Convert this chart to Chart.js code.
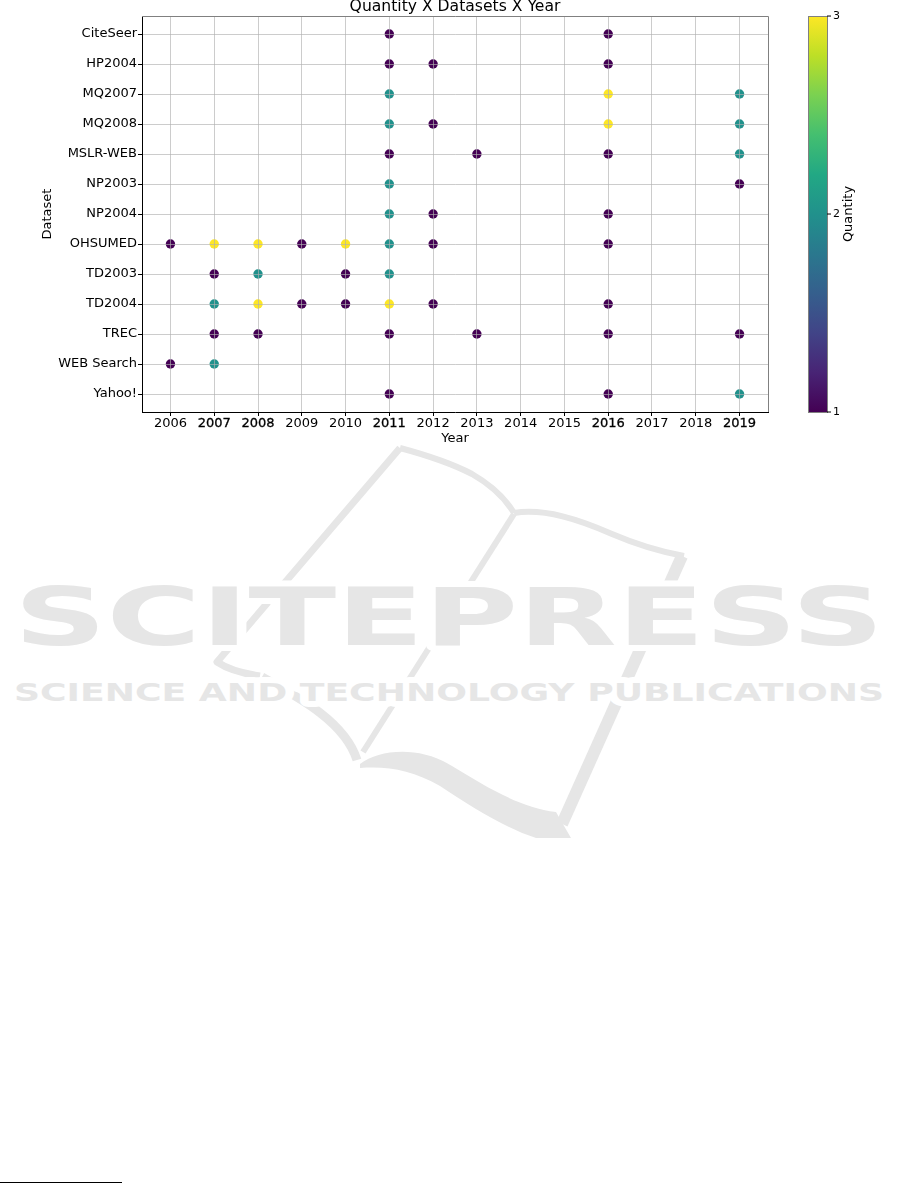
<!DOCTYPE html>
<html>
<head>
<meta charset="utf-8">
<script src="https://cdn.jsdelivr.net/npm/chart.js@4.4.1/dist/chart.umd.min.js"></script>
<style>
  html, body { margin: 0; padding: 0; background: #fff; }
  body { width: 901px; height: 1184px; position: relative; overflow: hidden; }
  #mark { position: absolute; left: 0; top: 0; }
  #wrap { position: absolute; left: 0; top: 0; width: 901px; height: 460px; }
  .footline { position: absolute; left: 0; top: 1182px; width: 122px; height: 1px; background: #000; }
</style>
</head>
<body>
<svg id="mark" width="901" height="1184" xmlns="http://www.w3.org/2000/svg">
  <g fill="none" stroke="#e6e6e6" stroke-linejoin="round">
    <path d="M 400 448 L 217 662 Q 232 672 260 676" stroke-width="7"/>
    <path d="M 400 448 Q 445 460 472 474 Q 500 490 514 513" stroke-width="6"/>
    <path d="M 514 513 C 545 508 580 520 612 534 C 640 546 662 552 684 556" stroke-width="6"/>
    <path d="M 514 514 L 363 752" stroke-width="6"/>
    <path d="M 682 556 L 562 824" stroke-width="12"/>
    <path d="M 262 677 C 300 698 345 722 357 760" stroke-width="9"/>
  </g>
  <path d="M 360 764 C 380 749 420 746 452 766 C 485 786 520 808 556 812 L 571 838 L 536 838 C 505 828 470 806 440 786 C 412 770 388 766 360 768 Z" fill="#e6e6e6"/>
  <g font-family="DejaVu Sans" font-weight="bold" fill="#e6e6e6" stroke="#fff" stroke-width="12" paint-order="stroke" stroke-linejoin="round">
    <text x="14" y="645" font-size="80" textLength="870" lengthAdjust="spacingAndGlyphs">SCITEPRESS</text>
    <text x="14" y="701" font-size="25" textLength="870" lengthAdjust="spacingAndGlyphs">SCIENCE AND TECHNOLOGY PUBLICATIONS</text>
  </g>
</svg>
<div id="wrap"><canvas id="chart" width="901" height="460"></canvas></div>
<div class="footline"></div>
<script>
const datasetNames = ["CiteSeer", "HP2004", "MQ2007", "MQ2008", "MSLR-WEB", "NP2003", "NP2004",
  "OHSUMED", "TD2003", "TD2004", "TREC", "WEB Search", "Yahoo!"];
const yearTicks = [2006, 2007, 2008, 2009, 2010, 2011, 2012, 2013, 2014, 2015, 2016, 2017, 2018, 2019];
const boldYears = [2007, 2008, 2011, 2016, 2019];
const quantityTicks = [1, 2, 3];

// [year, dataset] for each quantity level
const quantityOne = [
  [2011, "CiteSeer"], [2016, "CiteSeer"],
  [2011, "HP2004"], [2012, "HP2004"], [2016, "HP2004"],
  [2012, "MQ2008"],
  [2011, "MSLR-WEB"], [2013, "MSLR-WEB"], [2016, "MSLR-WEB"],
  [2019, "NP2003"],
  [2012, "NP2004"], [2016, "NP2004"],
  [2006, "OHSUMED"], [2009, "OHSUMED"], [2012, "OHSUMED"], [2016, "OHSUMED"],
  [2007, "TD2003"], [2010, "TD2003"],
  [2009, "TD2004"], [2010, "TD2004"], [2012, "TD2004"], [2016, "TD2004"],
  [2007, "TREC"], [2008, "TREC"], [2011, "TREC"], [2013, "TREC"], [2016, "TREC"], [2019, "TREC"],
  [2006, "WEB Search"],
  [2011, "Yahoo!"], [2016, "Yahoo!"]
];
const quantityTwo = [
  [2011, "MQ2007"], [2019, "MQ2007"],
  [2011, "MQ2008"], [2019, "MQ2008"],
  [2019, "MSLR-WEB"],
  [2011, "NP2003"],
  [2011, "NP2004"],
  [2011, "OHSUMED"],
  [2008, "TD2003"], [2011, "TD2003"],
  [2007, "TD2004"],
  [2007, "WEB Search"],
  [2019, "Yahoo!"]
];
const quantityThree = [
  [2016, "MQ2007"],
  [2016, "MQ2008"],
  [2007, "OHSUMED"], [2008, "OHSUMED"], [2010, "OHSUMED"],
  [2008, "TD2004"], [2011, "TD2004"]
];

const viridis = ["#440154", "#482475", "#414487", "#355f8d", "#2a788e", "#21918c",
  "#22a884", "#44bf70", "#7ad151", "#bddf26", "#fde725"];
const qtyColors = ["#440154", "#21918c", "#fde725"];

Chart.defaults.font.family = "DejaVu Sans";
Chart.defaults.color = "#000";

function toPoints(list) {
  return list.map(([year, name]) => ({ x: year, y: datasetNames.indexOf(name) }));
}

const gridColor = "rgba(176, 176, 176, 0.65)";

// top/right frame + colorbar
const framePlugin = {
  id: "frame",
  afterDraw(chart) {
    const { ctx, chartArea } = chart;
    ctx.save();
    ctx.strokeStyle = "#808080";
    ctx.lineWidth = 1;
    ctx.beginPath();
    ctx.moveTo(chartArea.left, Math.round(chartArea.top) + 0.5);
    ctx.lineTo(chartArea.right + 0.5, Math.round(chartArea.top) + 0.5);
    ctx.lineTo(chartArea.right + 0.5, chartArea.bottom);
    ctx.stroke();

    const left = 808, width = 19, top = chartArea.top, bottom = chartArea.bottom;
    const grad = ctx.createLinearGradient(0, bottom, 0, top);
    viridis.forEach((c, i) => grad.addColorStop(i / (viridis.length - 1), c));
    ctx.fillStyle = grad;
    ctx.fillRect(left, top, width, bottom - top);
    ctx.strokeStyle = "#808080";
    ctx.strokeRect(left + 0.5, Math.round(top) + 0.5, width, Math.round(bottom - top));

    const lo = quantityTicks[0], hi = quantityTicks[quantityTicks.length - 1];
    ctx.fillStyle = "#000";
    ctx.strokeStyle = "#000";
    ctx.font = "11px 'DejaVu Sans'";
    ctx.textAlign = "left";
    ctx.textBaseline = "middle";
    quantityTicks.forEach(v => {
      const y = bottom - (v - lo) / (hi - lo) * (bottom - top);
      ctx.beginPath();
      ctx.moveTo(left + width, y);
      ctx.lineTo(left + width + 4, y);
      ctx.stroke();
      ctx.fillText(String(v), left + width + 6, y);
    });

    ctx.save();
    ctx.translate(849, (top + bottom) / 2);
    ctx.rotate(-Math.PI / 2);
    ctx.textAlign = "center";
    ctx.font = "13px 'DejaVu Sans'";
    ctx.fillText("Quantity", 0, 0);
    ctx.restore();
    ctx.restore();
  }
};

const chart = new Chart(document.getElementById("chart"), {
  type: "scatter",
  data: {
    datasets: [quantityOne, quantityTwo, quantityThree].map((list, i) => ({
      label: "Quantity " + quantityTicks[i],
      data: toPoints(list),
      backgroundColor: qtyColors[i],
      borderWidth: 0,
      pointRadius: 4.7,
      pointHoverRadius: 4.7
    }))
  },
  options: {
    responsive: false,
    animation: false,
    devicePixelRatio: 1,
    layout: { padding: { left: 0, right: 133, top: 0, bottom: 0 } },
    plugins: {
      legend: { display: false },
      tooltip: { enabled: false },
      title: {
        display: true,
        text: "Quantity X Datasets X Year",
        fullSize: false,
        color: "#000",
        font: { size: 15.6, weight: "normal", lineHeight: 0.9 },
        padding: { top: 0, bottom: 2 }
      }
    },
    scales: {
      x: {
        type: "linear",
        min: 2005.35,
        max: 2019.65,
        afterBuildTicks: s => { s.ticks = yearTicks.map(v => ({ value: v })); },
        afterFit: s => { s.height = 48; },
        ticks: {
          autoSkip: false,
          maxRotation: 0,
          padding: 0,
          font: { size: 13 },
          color: "#000",
          textStrokeColor: "#000",
          textStrokeWidth: c => (c.tick && boldYears.includes(c.tick.value) ? 0.3 : 0),
          callback: v => String(v)
        },
        grid: { z: 1, color: gridColor, lineWidth: 1, tickLength: 4, tickColor: "#000" },
        border: { z: 2, color: "#000", width: 1 },
        title: { display: true, text: "Year", color: "#000", font: { size: 13 }, padding: { top: 0, bottom: 14 } }
      },
      y: {
        type: "linear",
        reverse: true,
        min: -0.6,
        max: 12.6,
        afterBuildTicks: s => { s.ticks = datasetNames.map((_, i) => ({ value: i })); },
        afterFit: s => { s.width = 142; },
        ticks: {
          autoSkip: false,
          padding: 1,
          font: { size: 13 },
          color: "#000",
          callback: v => datasetNames[v]
        },
        grid: { z: 1, color: gridColor, lineWidth: 1, tickLength: 4, tickColor: "#000" },
        border: { z: 2, color: "#000", width: 1 },
        title: { display: true, text: "Dataset", color: "#000", font: { size: 13 }, padding: { top: 40, bottom: 0 } }
      }
    }
  },
  plugins: [framePlugin]
});
</script>
</body>
</html>
